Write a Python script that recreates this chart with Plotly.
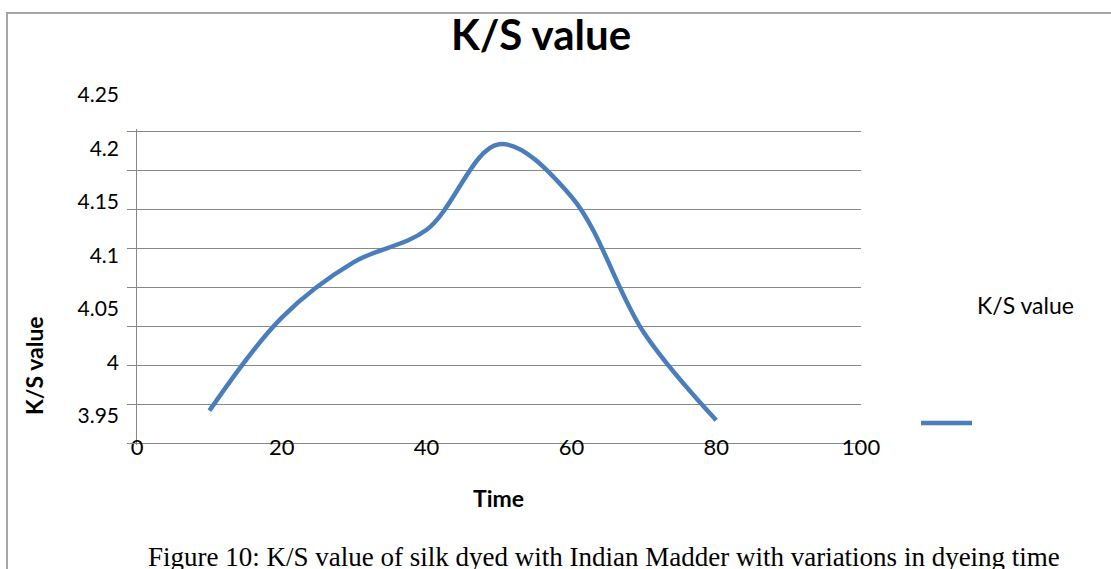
import plotly.graph_objects as go

# ---- data ----
time = [10, 20, 30, 40, 50, 60, 70, 80]
ks_value = [3.955, 4.042, 4.094, 4.124, 4.204, 4.155, 4.028, 3.946]
x_ticks = [0, 20, 40, 60, 80, 100]
y_tick_vals = [3.95, 4.0, 4.05, 4.1, 4.15, 4.2, 4.25]
y_tick_text = ["3.95", "4", "4.05", "4.1", "4.15", "4.2", "4.25"]
grid_lines = [0, 1, 2, 3, 4, 5, 6, 7, 8]

W, H = 1111, 569
L, R, T, B = 137, 250, 85, 124
PW, PH = W - L - R, H - T - B
BOTTOM = H - B  # 445 px

def px(xp):
    return (xp - L) / PW

def py(yp):
    return (BOTTOM - yp) / PH

GREY = "#888888"
BLUE = "#4A7EBB"
FONT = "Lato"

# grid axis: 0 -> 443 px, 8 -> 131 px (39 px per step)
g_lo = -(BOTTOM - 443) / 39.0
g_hi = 8.06
grid_top_px = 131 - 0.06 * 39

fig = go.Figure()
fig.add_trace(go.Scatter(x=[0], y=[0], xaxis="x", yaxis="y", mode="markers",
                         marker=dict(opacity=0), hoverinfo="skip", showlegend=False))
fig.add_trace(go.Scatter(x=time, y=ks_value, xaxis="x", yaxis="y2", mode="lines",
                         name="K/S value",
                         line=dict(color=BLUE, width=4.5, shape="spline", smoothing=1.0),
                         showlegend=False))

fig.update_layout(
    width=W, height=H,
    margin=dict(l=L, r=R, t=T, b=B),
    paper_bgcolor="white", plot_bgcolor="rgba(0,0,0,0)",
    title=dict(text="<b>K/S value</b>", x=541 / W, xanchor="center",
               y=1 - 35 / H, yanchor="middle",
               font=dict(family=FONT, size=42, color="black")),
    xaxis=dict(range=[0, 100], tickvals=x_ticks, showgrid=False, zeroline=False,
               showline=False, ticks="", anchor="y",
               ticklabelstandoff=-13,
               tickfont=dict(family=FONT, size=22, color="black")),
    yaxis=dict(domain=[0, (BOTTOM - grid_top_px) / PH], range=[g_lo, g_hi],
               tickvals=grid_lines,
               showticklabels=False, showgrid=True, gridcolor=GREY, gridwidth=1.4,
               zeroline=False, showline=True, linecolor=GREY, linewidth=1.3,
               ticks="outside", ticklen=9, tickcolor=GREY, tickwidth=1.4, anchor="x"),
    yaxis2=dict(domain=[0, 1], range=[4.25 - (BOTTOM - 95) / 1070, 4.25 + (95 - T) / 1070],
                tickvals=y_tick_vals, ticktext=y_tick_text, showgrid=False,
                zeroline=False, showline=False, ticks="", anchor="x",
                ticklabelstandoff=17,
                tickfont=dict(family=FONT, size=21, color="black")),
    showlegend=False,
)

annotations = [
    dict(text="<b>K/S value</b>", x=px(34), y=py(366), xref="paper", yref="paper",
         textangle=-90, showarrow=False, xanchor="center", yanchor="middle",
         font=dict(family=FONT, size=23, color="black")),
    dict(text="<b>Time</b>", x=px(498), y=py(498), xref="paper", yref="paper",
         showarrow=False, xanchor="center", yanchor="middle",
         font=dict(family=FONT, size=23, color="black")),
    dict(text="K/S value", x=px(975), y=py(305), xref="paper", yref="paper",
         showarrow=False, xanchor="left", yanchor="middle",
         font=dict(family=FONT, size=23, color="black")),
    dict(text="Figure 10: K/S value of silk dyed with Indian Madder with variations in dyeing time",
         x=px(604), y=py(540), xref="paper", yref="paper",
         showarrow=False, xanchor="center", yanchor="top",
         font=dict(family="Liberation Serif", size=27, color="black")),
]
fig.update_layout(annotations=annotations)

shapes = [
    dict(type="rect", xref="paper", yref="paper", x0=px(7), x1=px(1130), y0=py(600), y1=py(13),
         line=dict(color="#a6a6a6", width=2), fillcolor="rgba(0,0,0,0)", layer="below"),
    dict(type="line", xref="paper", yref="paper", x0=px(921), x1=px(972), y0=py(423), y1=py(423),
         line=dict(color=BLUE, width=4.5)),
]
fig.update_layout(shapes=shapes)

fig.write_html("out.html")
